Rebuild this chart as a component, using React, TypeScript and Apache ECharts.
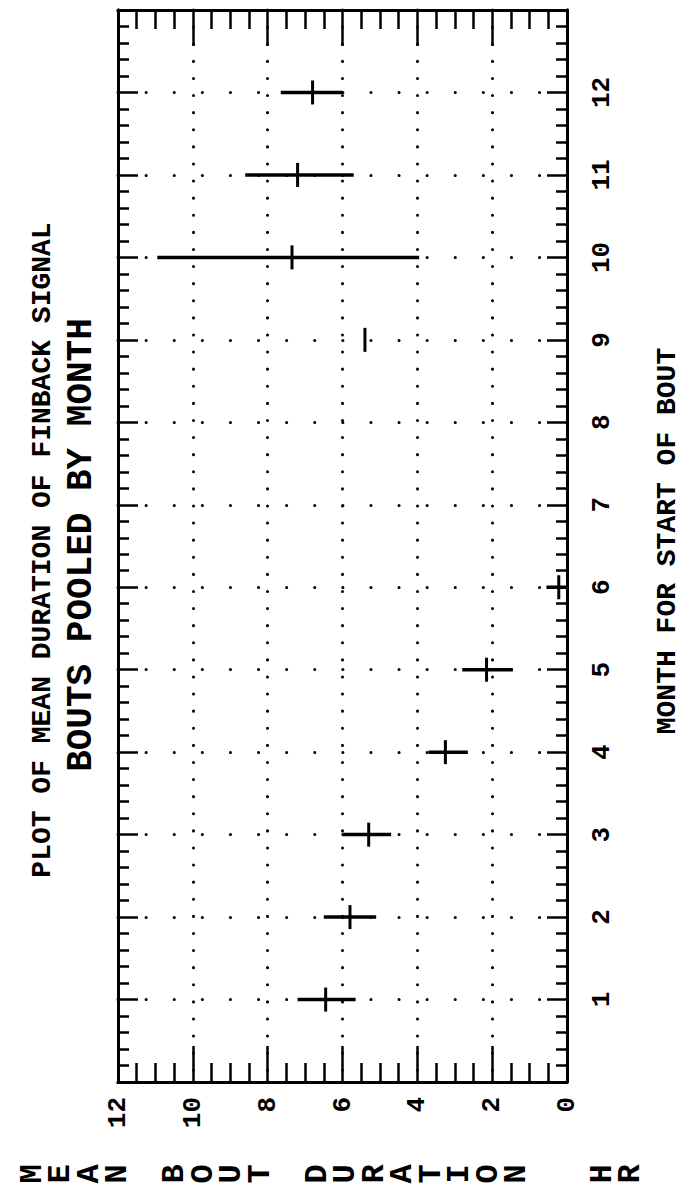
import React, { useEffect, useRef } from "react";
import * as echarts from "echarts";

// ---- data ----
const months = [1, 2, 3, 4, 5, 6, 9, 10, 11, 12];
const meanHr = [6.45, 5.8, 5.3, 3.25, 2.15, 0.22, 5.4, 7.35, 7.2, 6.8];
const lowHr = [5.65, 5.1, 4.7, 2.65, 1.45, 0.0, 5.4, 3.95, 5.7, 6.0];
const highHr = [7.2, 6.5, 6.0, 3.7, 2.8, 0.55, 5.4, 10.95, 8.6, 7.65];

const durationTicks = [0, 2, 4, 6, 8, 10, 12];
const monthTicks = [1, 2, 3, 4, 5, 6, 7, 8, 9, 10, 11, 12];

const titleLine1 = "PLOT OF MEAN DURATION OF FINBACK SIGNAL";
const titleLine2 = "BOUTS POOLED BY MONTH";
const monthAxisName = "MONTH FOR START OF BOUT";
const durationAxisName = "MEAN BOUT DURATION  HR";

const FONT = '"Liberation Mono", "DejaVu Sans Mono", monospace';

export default function App() {
  const ref = useRef<HTMLDivElement>(null);

  useEffect(() => {
    if (!ref.current) return;
    const chart = echarts.init(ref.current, undefined, { renderer: "svg" });

    const black = "#000";
    const tickLabel = {
      color: black,
      fontFamily: FONT,
      fontWeight: "bold" as const,
      fontSize: 26,
    };

    const data = months.map((m, i) => [m, meanHr[i], lowHr[i], highHr[i]]);

    const durationAxisBase = {
      type: "value" as const,
      min: 0,
      max: 12,
      interval: 2,
      inverse: true,
      axisLine: { show: true, onZero: false, lineStyle: { color: black, width: 3 } },
      axisTick: { show: true, inside: true, length: 36, lineStyle: { color: black, width: 2.5 } },
      minorTick: { show: true, splitNumber: 4, length: 19, lineStyle: { color: black, width: 2.5 } },
    };

    const monthAxisBase = {
      type: "value" as const,
      min: 0,
      max: 13,
      interval: 1,
      axisLine: { show: true, onZero: false, lineStyle: { color: black, width: 3 } },
      axisTick: { show: true, inside: true, length: 20, lineStyle: { color: black, width: 2.5 } },
      minorTick: { show: true, splitNumber: 5, length: 11, lineStyle: { color: black, width: 2.5 } },
    };

    const graphics: any[] = [
      {
        type: "text",
        x: 42,
        y: 550,
        rotation: Math.PI / 2,
        style: {
          text: titleLine1,
          fill: black,
          fontFamily: FONT,
          fontWeight: "bold",
          fontSize: 28,
          align: "center",
          verticalAlign: "middle",
        },
      },
      {
        type: "text",
        x: 81,
        y: 545,
        rotation: Math.PI / 2,
        style: {
          text: titleLine2,
          fill: black,
          fontFamily: FONT,
          fontWeight: "bold",
          fontSize: 36,
          align: "center",
          verticalAlign: "middle",
        },
      },
      {
        type: "text",
        x: 667,
        y: 541,
        rotation: Math.PI / 2,
        style: {
          text: monthAxisName,
          fill: black,
          fontFamily: FONT,
          fontWeight: "bold",
          fontSize: 28,
          align: "center",
          verticalAlign: "middle",
        },
      },
    ];

    durationAxisName.split("").forEach((ch, i) => {
      if (ch === " ") return;
      graphics.push({
        type: "text",
        x: 32 + 28.5 * i,
        y: 1174,
        rotation: Math.PI / 2,
        style: {
          text: ch,
          fill: black,
          fontFamily: FONT,
          fontWeight: "bold",
          fontSize: 32,
          align: "center",
          verticalAlign: "middle",
        },
      });
    });

    chart.setOption({
      animation: false,
      backgroundColor: "#fff",
      grid: { left: 118, right: 115, top: 10, bottom: 117, containLabel: false },
      xAxis: [
        {
          ...durationAxisBase,
          position: "bottom",
          axisLabel: {
            ...tickLabel,
            rotate: 90,
            margin: 15,
            formatter: (v: number) => (durationTicks.includes(v) ? String(v) : ""),
          },
          splitLine: {
            show: true,
            lineStyle: { color: black, width: 3, type: [0.1, 17], cap: "round" },
          },
        },
        {
          ...durationAxisBase,
          position: "top",
          axisLabel: { show: false },
          splitLine: { show: false },
        },
      ],
      yAxis: [
        {
          ...monthAxisBase,
          position: "right",
          axisLabel: {
            ...tickLabel,
            rotate: 90,
            margin: 22,
            formatter: (v: number) => (monthTicks.includes(v) ? String(v) : ""),
          },
          splitLine: {
            show: true,
            lineStyle: { color: black, width: 3, type: [0.1, 28], cap: "round" },
          },
        },
        {
          ...monthAxisBase,
          position: "left",
          axisLabel: { show: false },
          splitLine: { show: false },
        },
      ],
      series: [
        {
          type: "custom",
          xAxisIndex: 0,
          yAxisIndex: 0,
          encode: { x: [1, 2, 3], y: 0 },
          data,
          renderItem: (params: any, api: any) => {
            const m = api.value(0);
            const mean = api.value(1);
            const lo = api.value(2);
            const hi = api.value(3);
            const pLo = api.coord([lo, m]);
            const pHi = api.coord([hi, m]);
            const pMean = api.coord([mean, m]);
            const children: any[] = [];
            if (hi > lo) {
              children.push({
                type: "line",
                shape: { x1: pLo[0], y1: pLo[1], x2: pHi[0], y2: pHi[1] },
                style: { stroke: black, lineWidth: 3.5 },
              });
            }
            children.push({
              type: "line",
              shape: { x1: pMean[0], y1: pMean[1] - 12, x2: pMean[0], y2: pMean[1] + 12 },
              style: { stroke: black, lineWidth: 3 },
            });
            return { type: "group", children };
          },
        },
      ],
      graphic: graphics,
    });

    return () => chart.dispose();
  }, []);

  return (
    <div
      ref={ref}
      style={{ position: "absolute", left: 0, top: 0, width: 682, height: 1199, background: "#fff" }}
    />
  );
}
